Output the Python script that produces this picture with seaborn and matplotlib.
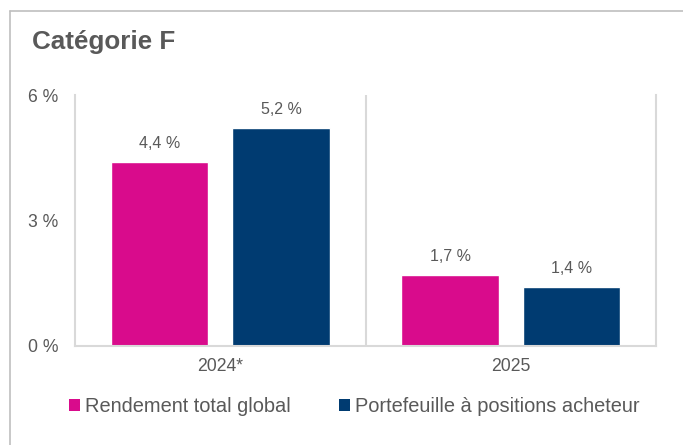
import numpy as np
import pandas as pd
import seaborn as sns
import matplotlib.pyplot as plt
from matplotlib.lines import Line2D
from matplotlib.patches import Patch

# data
years = ["2024*", "2025"]
series = ["Rendement total global", "Portefeuille à positions acheteur"]
rendement = [4.4, 1.7]
portefeuille = [5.2, 1.4]
colors = ["#D90B8C", "#003B71"]

df = pd.DataFrame({
    "annee": years * 2,
    "serie": [series[0]] * 2 + [series[1]] * 2,
    "valeur": rendement + portefeuille,
})

sns.set_style("white")
plt.rcParams["font.family"] = ["Liberation Sans", "DejaVu Sans"]
gray = "#595959"

fig = plt.figure(figsize=(6.83, 4.45), dpi=100)
ax = fig.add_axes([75 / 683, 0.2225, 581 / 683, 0.564])

sns.barplot(data=df, x="annee", y="valeur", hue="serie", palette=colors,
            width=0.836, gap=0.2, ax=ax, legend=False, saturation=1)

for cont in ax.containers:
    ax.bar_label(cont, labels=[f"{v:.1f} %".replace(".", ",") for v in cont.datavalues],
                 padding=8, fontsize=11.5, color=gray)

ax.set_xlim(-0.5, 1.5)
ax.set_ylim(0, 6)
ax.set_yticks([0, 3, 6])
ax.set_yticklabels(["0 %", "3 %", "6 %"])
ax.set_xlabel("")
ax.set_ylabel("")
ax.tick_params(axis="both", length=0, labelsize=12.7, colors=gray)
ax.tick_params(axis="x", pad=9)
ax.tick_params(axis="y", pad=12)
ax.spines["top"].set_visible(False)
for s in ["left", "right", "bottom"]:
    ax.spines[s].set_color("#D9D9D9")
    ax.spines[s].set_linewidth(1.5)
ax.axvline(0.5, color="#D9D9D9", lw=1.5)

# outer frame
fig.add_artist(Line2D([10 / 683, 1], [1 - 11 / 445] * 2, color="#BFBFBF", lw=1.2))
fig.add_artist(Line2D([10 / 683] * 2, [0, 1 - 11 / 445], color="#BFBFBF", lw=1.2))

fig.text(32 / 683, 1 - 49 / 445, "Catégorie F", fontsize=18.7, fontweight="bold",
         color=gray, va="baseline", ha="left")

handles = [Patch(facecolor=c, edgecolor="none") for c in colors]
fig.legend(handles, series, loc="center", bbox_to_anchor=(354 / 683, 1 - 407 / 445),
           ncol=2, frameon=False, fontsize=14.4, labelcolor=gray, handlelength=0.55,
           handleheight=0.55, handletextpad=0.25, columnspacing=2.4)

fig.savefig("out.png", dpi=100)
